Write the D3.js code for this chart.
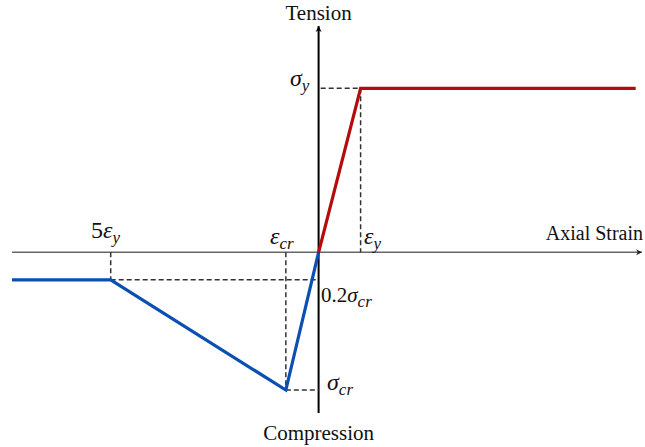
<!DOCTYPE html>
<html>
<head>
<meta charset="utf-8">
<script src="https://cdn.jsdelivr.net/npm/d3@7"></script>
<style>
  body { margin: 0; background: #fff; }
  svg { display: block; }
  text { font-family: "Liberation Serif", "DejaVu Serif", serif; fill: #111; }
</style>
</head>
<body>
<script>
// strain in units of eps_y, stress in units of sigma_y
const tension = [[0, 0], [1, 1], [7.55, 1]];
const compression = [[0, 0], [-0.78, -0.84], [-4.95, -0.168], [-7.3, -0.168]];
// dashed guide lines [x1, y1, x2, y2]
const guides = [
  [0.05, 1, 1, 1],
  [1, 1, 1, 0],
  [-0.78, 0, -0.78, -0.84],
  [-0.78, -0.84, 0, -0.84],
  [-4.95, 0, -4.95, -0.168],
  [-4.95, -0.168, 0, -0.168]
];
const xDomain = [-7.3, 7.7];
const yDomain = [-0.98, 1.38];

const width = 645, height = 447;
const x = d3.scaleLinear().domain(xDomain).range([12, 642]);
const y = d3.scaleLinear().domain(yDomain).range([413, 26]);

const svg = d3.select("body").append("svg")
  .attr("width", width)
  .attr("height", height);

const defs = svg.append("defs");
defs.append("marker").attr("id", "arrV")
  .attr("viewBox", "0 0 10 10").attr("refX", 10).attr("refY", 5)
  .attr("markerWidth", 6).attr("markerHeight", 7).attr("markerUnits", "userSpaceOnUse")
  .attr("orient", "auto")
  .append("path").attr("d", "M0,0 L10,5 L0,10 L3,5 Z").attr("fill", "#000");
defs.append("marker").attr("id", "arrH")
  .attr("viewBox", "0 0 10 10").attr("refX", 10).attr("refY", 5)
  .attr("markerWidth", 12).attr("markerHeight", 6).attr("markerUnits", "userSpaceOnUse")
  .attr("orient", "auto")
  .append("path").attr("d", "M0,0 L10,5 L0,10 L3,5 Z").attr("fill", "#222");

// axes
svg.append("line")
  .attr("x1", x(xDomain[0])).attr("x2", x(xDomain[1]))
  .attr("y1", y(0)).attr("y2", y(0))
  .attr("stroke", "#666").attr("stroke-width", 1.5)
  .attr("marker-end", "url(#arrH)");
svg.append("line")
  .attr("x1", x(0)).attr("x2", x(0))
  .attr("y1", y(yDomain[0])).attr("y2", y(yDomain[1]))
  .attr("stroke", "#000").attr("stroke-width", 2)
  .attr("marker-end", "url(#arrV)");

svg.selectAll("line.guide").data(guides).enter().append("line")
  .attr("class", "guide")
  .attr("x1", d => x(d[0])).attr("y1", d => y(d[1]))
  .attr("x2", d => x(d[2])).attr("y2", d => y(d[3]))
  .attr("stroke", "#333").attr("stroke-width", 1.5)
  .attr("stroke-dasharray", "5,3");

const line = d3.line().x(d => x(d[0])).y(d => y(d[1]));
svg.append("path").datum(compression).attr("d", line)
  .attr("fill", "none").attr("stroke", "#0b4fb3").attr("stroke-width", 3.2);
svg.append("path").datum(tension).attr("d", line)
  .attr("fill", "none").attr("stroke", "#b30c0c").attr("stroke-width", 3.2);

// labels
svg.append("text").attr("x", x(0)).attr("y", 20).attr("text-anchor", "middle")
  .attr("font-size", 21).text("Tension");
svg.append("text").attr("x", x(0)).attr("y", 440).attr("text-anchor", "middle")
  .attr("font-size", 21).text("Compression");
svg.append("text").attr("x", 643).attr("y", 240).attr("text-anchor", "end")
  .attr("font-size", 20).text("Axial Strain");

function sym(xp, yp, main, sub, pre) {
  const t = svg.append("text").attr("x", xp).attr("y", yp).attr("font-size", 24);
  if (pre) t.append("tspan").text(pre);
  t.append("tspan").attr("font-style", "italic").text(main);
  t.append("tspan").attr("font-style", "italic").attr("font-size", 17).attr("dy", 5).text(sub);
  return t;
}
sym(290, 86, "σ", "y");
sym(364, 244, "ε", "y");
sym(270, 244, "ε", "cr");
sym(91, 238, "ε", "y", "5");
sym(321, 302, "σ", "cr").attr("font-size", 21).call(t => t.insert("tspan", ":first-child").text("0.2"));
sym(327, 390, "σ", "cr");
</script>
</body>
</html>
